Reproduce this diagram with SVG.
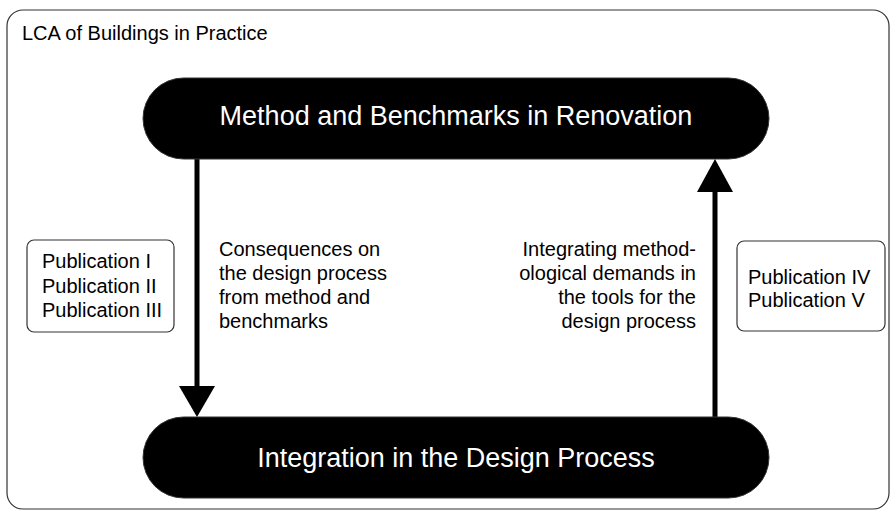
<svg xmlns="http://www.w3.org/2000/svg" width="896" height="513" viewBox="0 0 896 513">
<style>
text{font-family:"Liberation Sans",Arial,sans-serif;fill:#000}
.t{font-size:20px}
.big{font-size:27px;fill:#fff}
.pill{fill:#000;stroke:#333;stroke-width:1}
.box{fill:#fff;stroke:#333;stroke-width:1.2}
.conn{stroke:#000;stroke-width:5;fill:none}
.head{fill:#000}
</style>
<rect x="7" y="10" width="882" height="499" rx="16" fill="#fff" stroke="#333" stroke-width="1.2"/>
<text class="t" x="22" y="40">LCA of Buildings in Practice</text>
<g id="connectors">
<line class="conn" x1="197" y1="159" x2="197" y2="388"/>
<polygon class="head" points="179,386 215,386 197,417"/>
<line class="conn" x1="715" y1="190" x2="715" y2="417"/>
<polygon class="head" points="697,192 733,192 715,159"/>
</g>
<g id="method">
<rect class="pill" x="143" y="78" width="626" height="81" rx="40.5"/>
<text class="big" x="456" y="125" text-anchor="middle">Method and Benchmarks in Renovation</text>
</g>
<g id="integration">
<rect class="pill" x="143" y="417" width="626" height="81" rx="40.5"/>
<text class="big" x="456" y="467" text-anchor="middle">Integration in the Design Process</text>
</g>
<g id="pub-left">
<rect class="box" x="27" y="240" width="147" height="92" rx="7"/>
<text class="t" x="42" y="268">Publication I</text>
<text class="t" x="42" y="292.5">Publication II</text>
<text class="t" x="42" y="317">Publication III</text>
</g>
<g id="pub-right">
<rect class="box" x="737" y="241" width="148" height="90" rx="7"/>
<text class="t" x="748" y="284">Publication IV</text>
<text class="t" x="748" y="307">Publication V</text>
</g>
<g id="label-left">
<text class="t" x="219" y="256">Consequences on</text>
<text class="t" x="219" y="280">the design process</text>
<text class="t" x="219" y="304">from method and</text>
<text class="t" x="219" y="328">benchmarks</text>
</g>
<g id="label-right">
<text class="t" x="696" y="256" text-anchor="end">Integrating method-</text>
<text class="t" x="696" y="280" text-anchor="end">ological demands in</text>
<text class="t" x="696" y="304" text-anchor="end">the tools for the</text>
<text class="t" x="696" y="328" text-anchor="end">design process</text>
</g>
</svg>
